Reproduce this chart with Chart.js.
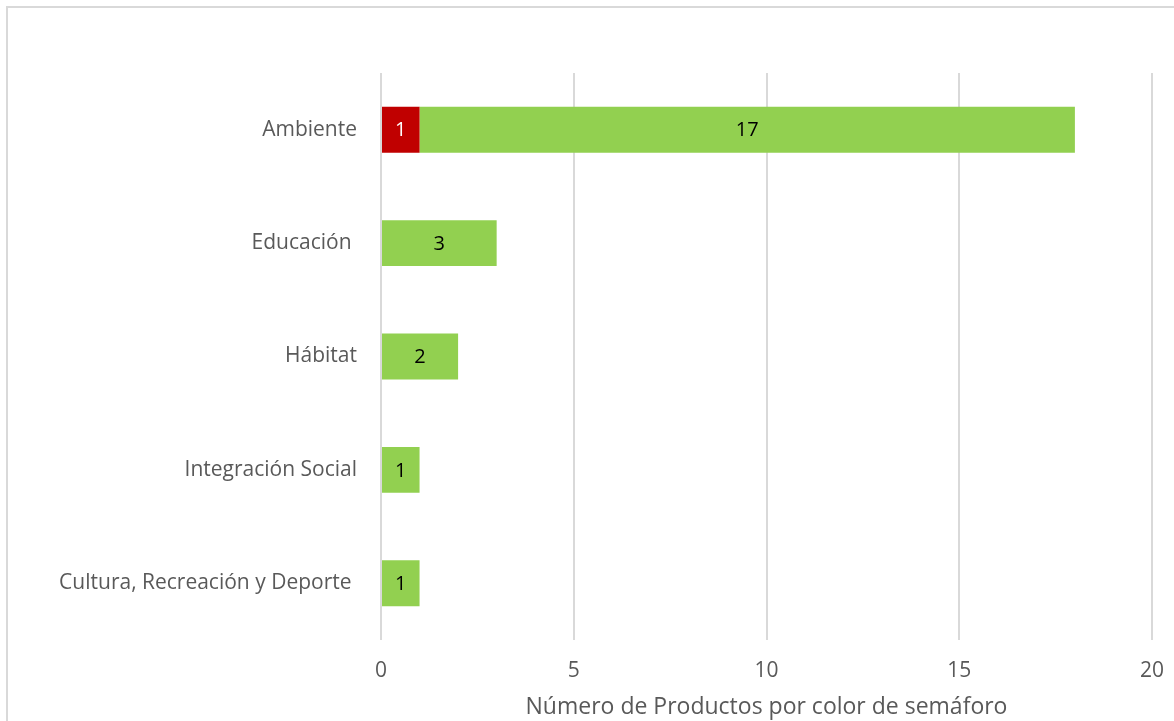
<!DOCTYPE html>
<html>
<head>
<meta charset="utf-8">
<script src="https://cdn.jsdelivr.net/npm/chart.js@4/dist/chart.umd.min.js"></script>
<style>
html,body{margin:0;padding:0;background:#fff;overflow:hidden;}
#wrap{position:absolute;left:0;top:0;width:1174px;height:721px;}
#frame{position:absolute;left:6px;top:6px;width:1200px;height:760px;border:2px solid #d9d9d9;box-sizing:border-box;}
canvas{position:absolute;left:0;top:0;}
</style>
</head>
<body>
<div id="wrap">
<div id="frame"></div>
<canvas id="c" width="1174" height="721"></canvas>
</div>
<script>
const categories = ["Ambiente", "Educación ", "Hábitat", "Integración Social", "Cultura, Recreación y Deporte "];
const redValues = [1, 0, 0, 0, 0];
const greenValues = [17, 3, 2, 1, 1];
const xTicks = [0, 5, 10, 15, 20];
const xTitle = "Número de Productos por color de semáforo";

const FONT = "'Open Sans', sans-serif";

const labelPlugin = {
  id: 'barLabels',
  afterDatasetsDraw(chart) {
    const ctx = chart.ctx;
    ctx.save();
    ctx.font = "20px " + FONT;
    ctx.textAlign = 'center';
    ctx.textBaseline = 'middle';
    chart.data.datasets.forEach((ds, di) => {
      const meta = chart.getDatasetMeta(di);
      meta.data.forEach((bar, i) => {
        const v = ds.data[i];
        if (!v) return;
        const p = bar.getProps(['x','y','base'], true);
        const cx = (p.x + p.base) / 2;
        ctx.fillStyle = ds.labelColor;
        ctx.fillText(String(v), cx, p.y + 1);
      });
    });
    ctx.restore();
  }
};

new Chart(document.getElementById('c'), {
  type: 'bar',
  data: {
    labels: categories,
    datasets: [
      { label: 'Rojo', data: redValues, backgroundColor: '#C00000', labelColor: '#ffffff', barPercentage: 0.405, categoryPercentage: 1 },
      { label: 'Verde', data: greenValues, backgroundColor: '#92D050', labelColor: '#000000', barPercentage: 0.405, categoryPercentage: 1 }
    ]
  },
  options: {
    indexAxis: 'y',
    responsive: false,
    animation: false,
    layout: { padding: { left: 0, right: 22, top: 73, bottom: 0 } },
    plugins: { legend: { display: false }, tooltip: { enabled: false } },
    scales: {
      x: {
        stacked: true,
        min: 0, max: 20,
        afterBuildTicks(scale) { scale.ticks = xTicks.map(v => ({ value: v })); },
        afterFit(scale) { scale.height = 81; scale.paddingRight = 0; scale.paddingLeft = 0; },
        grid: { color: '#d9d9d9', lineWidth: 2, drawTicks: false },
        border: { display: false },
        ticks: { color: '#595959', font: { size: 21, family: FONT }, padding: 18 },
        title: { display: true, text: xTitle, color: '#595959', font: { size: 23, family: FONT }, padding: { top: -2, bottom: 0 } }
      },
      y: {
        stacked: true,
        afterFit(scale) { scale.width = 381; },
        grid: { display: false, drawTicks: false },
        border: { display: false },
        ticks: { color: '#595959', font: { size: 21, family: FONT }, padding: 24 }
      }
    }
  },
  plugins: [labelPlugin]
});
</script>
</body>
</html>
